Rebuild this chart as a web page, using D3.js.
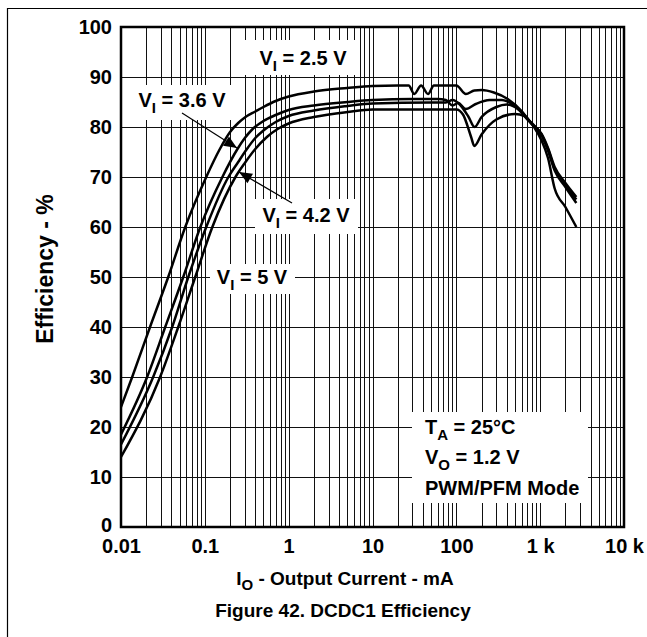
<!DOCTYPE html>
<html>
<head>
<meta charset="utf-8">
<script src="https://cdn.jsdelivr.net/npm/d3@7"></script>
<style>
  body { margin: 0; background: #fff; }
  svg { display: block; }
  text { font-family: "Liberation Sans", Arial, Helvetica, sans-serif; font-weight: bold; fill: #000; }
</style>
</head>
<body>
<svg id="chart" width="647" height="637"></svg>
<script>
// ---------- data ----------
const xTickValues = [0.01, 0.1, 1, 10, 100, 1000, 10000];
const xTickLabels = ["0.01", "0.1", "1", "10", "100", "1 k", "10 k"];
const yTickValues = [0, 10, 20, 30, 40, 50, 60, 70, 80, 90, 100];

// [output current mA, efficiency %]
const seriesVI25 = [
  [0.01, 24], [0.0136, 30], [0.0222, 40], [0.0366, 50], [0.0584, 60], [0.104, 70],
  [0.15, 75.5], [0.2, 79], [0.25, 80.8], [0.3, 81.9], [0.4, 83.1], [0.5, 84], [0.7, 85.2],
  [1, 86.1], [2, 87.1], [5, 87.8], [10, 88.2], [20, 88.3], [27, 88.3], [31.5, 86.6],
  [38, 88.3], [46, 86.6], [54, 88.3], [100, 88.3], [130, 86.6], [164, 87.3], [200, 87.4],
  [280, 86.9], [410, 85.6], [600, 83.2], [730, 81.4], [860, 79.8], [1040, 77.3],
  [1240, 73.8], [1490, 67.7], [2000, 64.0], [2700, 60.0]
];
const seriesVI36 = [
  [0.01, 18.5], [0.0205, 30], [0.0337, 40], [0.0553, 50], [0.0884, 60], [0.162, 70],
  [0.245, 75.6], [0.3, 77.8], [0.367, 79.5], [0.5, 81.2], [0.7, 82.4], [1, 83.4],
  [2, 84.3], [5, 85.0], [10, 85.4], [30, 85.6], [60, 85.6], [75, 85.4], [90, 84.3],
  [105, 84.8], [130, 83.6], [170, 84.6], [250, 85.4], [350, 85.4], [500, 84.2],
  [730, 81.4], [1040, 78.3], [1240, 75.3], [1490, 71.3], [2000, 68.0], [2700, 64.8]
];
const seriesVI42 = [
  [0.01, 16.5], [0.0242, 30], [0.0408, 40], [0.0635, 50], [0.104, 60], [0.191, 70],
  [0.25, 73], [0.3, 75], [0.4, 77.8], [0.5, 79.3], [0.7, 81], [1, 82.2], [2, 83.3],
  [5, 84.2], [10, 84.7], [50, 84.9], [75, 84.9], [90, 85.4], [110, 84.5], [140, 82],
  [165, 80], [200, 82], [300, 84], [400, 84.5], [550, 83.5], [730, 81.2], [1040, 78.5],
  [1240, 75.6], [1490, 71.6], [2000, 68.4], [2700, 65.5]
];
const seriesVI5 = [
  [0.01, 14], [0.0293, 30], [0.0482, 40], [0.0769, 50], [0.123, 60], [0.232, 70],
  [0.3, 72.8], [0.4, 75.6], [0.55, 78], [0.738, 79.6], [1, 80.7], [2, 82], [5, 83],
  [10, 83.5], [50, 83.5], [100, 83.5], [120, 82.5], [150, 78], [164, 76.2], [200, 78.5],
  [300, 81.5], [500, 82.6], [650, 82.2], [800, 80.5], [1040, 78.6], [1240, 75.8],
  [1490, 72], [2000, 68.8], [2700, 66.0]
];
const seriesList = [seriesVI25, seriesVI36, seriesVI42, seriesVI5];

// ---------- layout ----------
const svg = d3.select("#chart");
const plot = { left: 121, right: 624, top: 27, bottom: 527 };
const x = d3.scaleLog().domain([0.01, 10000]).range([plot.left, plot.right]);
const y = d3.scaleLinear().domain([0, 100]).range([plot.bottom, plot.top]);

// outer frame (top and left edges visible)
svg.append("path").attr("d", "M7.5,637 L7.5,8.5 L647,8.5")
  .attr("fill", "none").attr("stroke", "#000").attr("stroke-width", 1.2);

// grid
const grid = svg.append("g").attr("stroke", "#111").attr("stroke-width", 1);
grid.selectAll("line.v").data(x.ticks()).join("line")
  .attr("x1", d => Math.round(x(d)) + 0.5).attr("x2", d => Math.round(x(d)) + 0.5)
  .attr("y1", plot.top).attr("y2", plot.bottom);
grid.selectAll("line.h").data(yTickValues).join("line")
  .attr("y1", d => Math.round(y(d)) + 0.5).attr("y2", d => Math.round(y(d)) + 0.5)
  .attr("x1", plot.left).attr("x2", plot.right);

// white label boxes (cover grid)
const boxes = [
  { x: 245, y: 40, w: 113, h: 35 },
  { x: 130, y: 85, w: 105, h: 35 },
  { x: 255, y: 199, w: 103, h: 35 },
  { x: 210, y: 264, w: 85, h: 30 },
  { x: 412, y: 412, w: 176, h: 91 }
];
svg.append("g").selectAll("rect").data(boxes).join("rect")
  .attr("x", d => d.x).attr("y", d => d.y).attr("width", d => d.w).attr("height", d => d.h)
  .attr("fill", "#fff");

// curves
svg.append("clipPath").attr("id", "clip").append("rect")
  .attr("x", plot.left).attr("y", plot.top)
  .attr("width", plot.right - plot.left).attr("height", plot.bottom - plot.top);
const line = d3.line().x(d => x(d[0])).y(d => y(d[1])).curve(d3.curveMonotoneX);
svg.append("g").attr("clip-path", "url(#clip)").selectAll("path").data(seriesList).join("path")
  .attr("d", line).attr("fill", "none").attr("stroke", "#000")
  .attr("stroke-width", 2.5).attr("stroke-linejoin", "round");

// plot border
svg.append("rect").attr("x", plot.left).attr("y", plot.top)
  .attr("width", plot.right - plot.left).attr("height", plot.bottom - plot.top)
  .attr("fill", "none").attr("stroke", "#000").attr("stroke-width", 2.5);

// axes
const yAxis = svg.append("g").attr("transform", `translate(${plot.left},0)`)
  .call(d3.axisLeft(y).tickValues(yTickValues).tickSize(0).tickPadding(9));
yAxis.select(".domain").remove();
yAxis.selectAll("text").attr("font-size", 20).attr("font-family", null).attr("font-weight", "bold");
yAxis.selectAll(".tick").filter(d => d === 0).select("text").attr("dy", "0.2em");

const xAxis = svg.append("g").attr("transform", `translate(0,${plot.bottom})`)
  .call(d3.axisBottom(x).tickValues(xTickValues).tickSize(0).tickPadding(12)
    .tickFormat((d, i) => xTickLabels[i]));
xAxis.select(".domain").remove();
xAxis.selectAll("text").attr("font-size", 20).attr("font-family", null).attr("font-weight", "bold");

// axis titles
svg.append("text").attr("transform", "translate(53,269) rotate(-90)")
  .attr("text-anchor", "middle").attr("font-size", 23).text("Efficiency - %");

const xt = svg.append("text").attr("x", 345).attr("y", 585).attr("text-anchor", "middle").attr("font-size", 19);
xt.append("tspan").text("I");
xt.append("tspan").attr("font-size", 15).attr("dy", 5).text("O");
xt.append("tspan").attr("dy", -5).text(" - Output Current - mA");

svg.append("text").attr("x", 343).attr("y", 617).attr("text-anchor", "middle")
  .attr("font-size", 19).text("Figure 42. DCDC1 Efficiency");

// subscript labels
function subLabel(px, py, main, sub, rest, anchor) {
  const t = svg.append("text").attr("x", px).attr("y", py)
    .attr("text-anchor", anchor || "middle").attr("font-size", 20);
  t.append("tspan").text(main);
  t.append("tspan").attr("font-size", 15).attr("dy", 6).text(sub);
  t.append("tspan").attr("dy", -6).text(rest);
  return t;
}
subLabel(303, 65, "V", "I", " = 2.5 V");
subLabel(182, 107, "V", "I", " = 3.6 V");
subLabel(306, 222, "V", "I", " = 4.2 V");
subLabel(252, 284, "V", "I", " = 5 V");

subLabel(425, 434, "T", "A", " = 25°C", "start");
subLabel(425, 464, "V", "O", " = 1.2 V", "start");
svg.append("text").attr("x", 425).attr("y", 495).attr("font-size", 20).text("PWM/PFM Mode");

// arrows
function arrow(x1, y1, x2, y2) {
  svg.append("line").attr("x1", x1).attr("y1", y1).attr("x2", x2).attr("y2", y2)
    .attr("stroke", "#000").attr("stroke-width", 1.2);
  const ang = Math.atan2(y2 - y1, x2 - x1), L = 13, Wd = 5.5;
  const bx = x2 - L * Math.cos(ang), by = y2 - L * Math.sin(ang);
  const px = -Math.sin(ang) * Wd, py = Math.cos(ang) * Wd;
  svg.append("path").attr("d", `M${x2},${y2} L${bx + px},${by + py} L${bx - px},${by - py} Z`)
    .attr("fill", "#000");
}
arrow(182, 113, 237, 148);
arrow(292, 203, 239, 172);
</script>
</body>
</html>
